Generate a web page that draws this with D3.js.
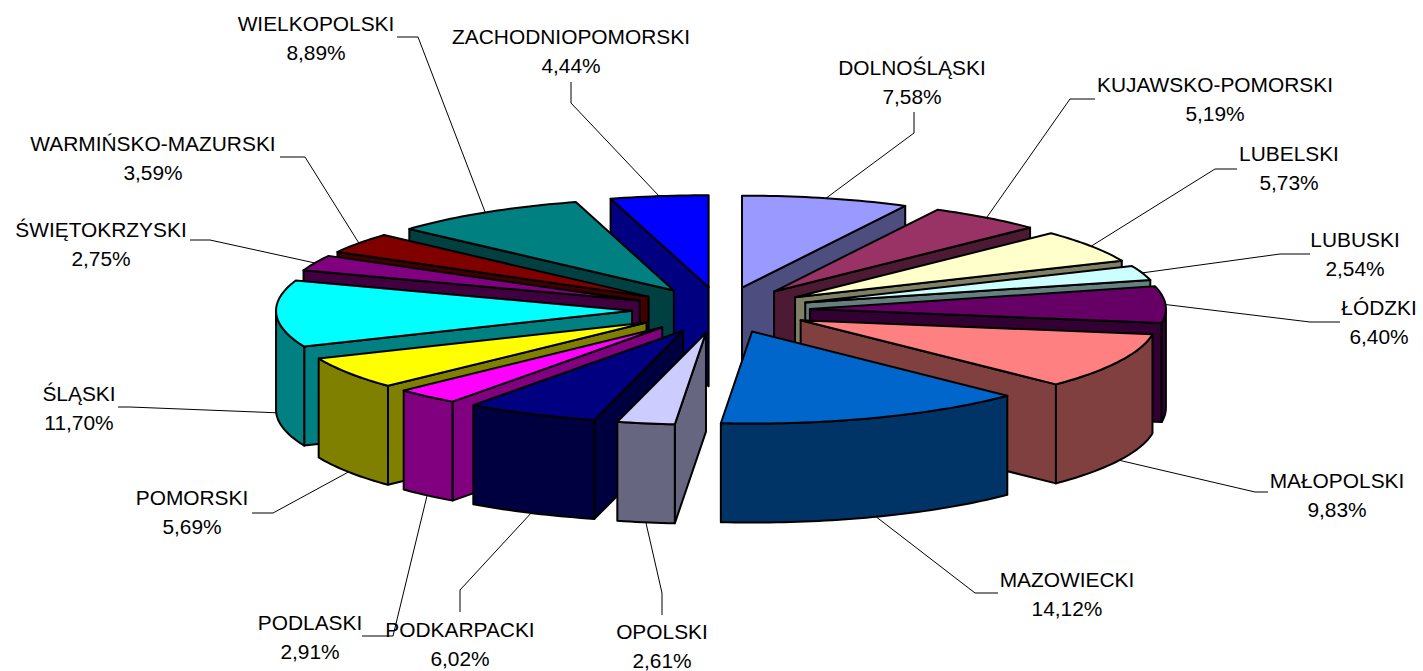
<!DOCTYPE html>
<html>
<head>
<meta charset="utf-8">
<style>
  html, body { margin: 0; padding: 0; background: #fff; }
  svg { display: block; }
  text { font-family: "Liberation Sans", Arial, sans-serif; font-size: 20.9px; fill: #000; }
</style>
<script src="https://cdn.jsdelivr.net/npm/d3@7"></script>
</head>
<body>
<div id="wrapper"></div>
<script>
/* DATA */
const regions = [
  "DOLNOŚLĄSKI", "KUJAWSKO-POMORSKI", "LUBELSKI", "LUBUSKI", "ŁÓDZKI", "MAŁOPOLSKI",
  "MAZOWIECKI", "OPOLSKI", "PODKARPACKI", "PODLASKI", "POMORSKI", "ŚLĄSKI",
  "ŚWIĘTOKRZYSKI", "WARMIŃSKO-MAZURSKI", "WIELKOPOLSKI", "ZACHODNIOPOMORSKI",
];
const shares = [7.58, 5.19, 5.73, 2.54, 6.4, 9.83, 14.12, 2.61, 6.02, 2.91, 5.69, 11.7, 2.75, 3.59, 8.89, 4.44];
const sliceColors = [
  "#9999FF", "#993366", "#FFFFCC", "#CCFFFF", "#660066", "#FF8080", "#0066CC", "#CCCCFF",
  "#000080", "#FF00FF", "#FFFF00", "#00FFFF", "#800080", "#800000", "#008080", "#0000FF",
];

/* LABEL LAYOUT: [label centre x, first line centre y, elbow x, elbow y, end x, end y] */
const labelLayout = [
  [912, 68, 914, 133, 914, 112],
  [1215, 85, 1070, 99, 1095, 99],
  [1289, 154, 1215, 169, 1237, 169],
  [1355, 240, 1280, 254, 1310, 254],
  [1379, 308, 1310, 322, 1340, 322],
  [1337, 481, 1255, 492, 1268, 492],
  [1067, 580, 975, 593, 998, 593],
  [662, 632, 662, 593, 662, 615],
  [460, 630, 460, 590, 460, 612],
  [310, 623, 393, 636, 362, 636],
  [192, 498, 273, 513, 252, 513],
  [79, 394, 130, 407, 118, 407],
  [101, 230, 210, 240, 190, 240],
  [153, 144, 305, 157, 280, 157],
  [316, 24, 418, 37, 397, 37],
  [571, 37, 571, 103, 571, 82],
];

/* DIMENSIONS */
const dimensions = {
  width: 1423,
  height: 671,
  centerX: 721,
  centerY: 310,
  radiusX: 356,
  radiusY: 92,
  depth: 99,
  explode: 0.25,
};

const xScale = d3.scaleLinear()
  .domain([-1, 1])
  .range([dimensions.centerX - dimensions.radiusX, dimensions.centerX + dimensions.radiusX]);
const yScale = d3.scaleLinear()
  .domain([-1, 1])
  .range([dimensions.centerY - dimensions.radiusY, dimensions.centerY + dimensions.radiusY]);

const pie = d3.pie().sort(null).value((d) => d);
const slices = pie(shares).map((d, i) => {
  const mid = (d.startAngle + d.endAngle) / 2;
  return { ...d, i, mid, offX: dimensions.explode * Math.sin(mid), offY: -dimensions.explode * Math.cos(mid) };
});

// screen position of a point on a slice, r = 0 is the apex, r = 1 is the rim
const project = (s, angle, r, drop = 0) => [
  xScale(s.offX + r * Math.sin(angle)),
  yScale(s.offY - r * Math.cos(angle)) + drop,
];

const arcAngles = (from, to) => {
  const steps = Math.max(2, Math.ceil((to - from) / 0.02));
  return d3.range(steps + 1).map((k) => from + ((to - from) * k) / steps);
};

const closedLine = d3.line().curve(d3.curveLinearClosed);
const openLine = d3.line();
const sideColor = (c) => {
  const rgb = d3.rgb(c);
  return d3.rgb(rgb.r / 2, rgb.g / 2, rgb.b / 2).formatHex();
};

/* DRAW DATA */
const svg = d3.select("#wrapper")
  .append("svg")
  .attr("width", dimensions.width)
  .attr("height", dimensions.height);

const leaders = svg.append("g");
const pieGroup = svg.append("g")
  .attr("stroke", "#000")
  .attr("stroke-width", 2)
  .attr("stroke-linejoin", "round");

const cutFace = (s, angle) => closedLine([
  project(s, angle, 0),
  project(s, angle, 1),
  project(s, angle, 1, dimensions.depth),
  project(s, angle, 0, dimensions.depth),
]);

// back slices first so the front ones paint over them
const drawOrder = [...slices].sort((a, b) => Math.cos(b.mid) - Math.cos(a.mid));

drawOrder.forEach((s) => {
  const g = pieGroup.append("g");
  const side = sideColor(sliceColors[s.i]);

  if (Math.sin(s.startAngle) < -1e-6) {
    g.append("path").attr("d", cutFace(s, s.startAngle)).attr("fill", side);
  }
  if (Math.sin(s.endAngle) > 1e-6) {
    g.append("path").attr("d", cutFace(s, s.endAngle)).attr("fill", side);
  }

  // rim wall only on the part of the arc facing the viewer
  const rimFrom = Math.max(s.startAngle, Math.PI / 2);
  const rimTo = Math.min(s.endAngle, (3 * Math.PI) / 2);
  if (rimTo > rimFrom) {
    const rim = arcAngles(rimFrom, rimTo);
    g.append("path")
      .attr("d", closedLine([
        ...rim.map((a) => project(s, a, 1)),
        ...rim.reverse().map((a) => project(s, a, 1, dimensions.depth)),
      ]))
      .attr("fill", side);
  }

  g.append("path")
    .attr("d", closedLine([
      project(s, s.startAngle, 0),
      ...arcAngles(s.startAngle, s.endAngle).map((a) => project(s, a, 1)),
    ]))
    .attr("fill", sliceColors[s.i]);
});

/* PERIPHERALS */
slices.forEach((s) => {
  const [labelX, labelY, elbowX, elbowY, endX, endY] = labelLayout[s.i];
  const anchor = project(s, s.mid, 1, Math.cos(s.mid) < 0 ? dimensions.depth : 0);

  leaders.append("path")
    .attr("d", openLine([anchor, [elbowX, elbowY], [endX, endY]]))
    .attr("fill", "none")
    .attr("stroke", "#000")
    .attr("stroke-width", 1);

  const label = svg.append("g");
  label.append("text")
    .attr("x", labelX)
    .attr("y", labelY)
    .attr("dy", "0.35em")
    .attr("text-anchor", "middle")
    .text(regions[s.i]);
  label.append("text")
    .attr("x", labelX)
    .attr("y", labelY + 28.3)
    .attr("dy", "0.35em")
    .attr("text-anchor", "middle")
    .text(`${d3.format(".2f")(shares[s.i]).replace(".", ",")}%`);
});
</script>
</body>
</html>
